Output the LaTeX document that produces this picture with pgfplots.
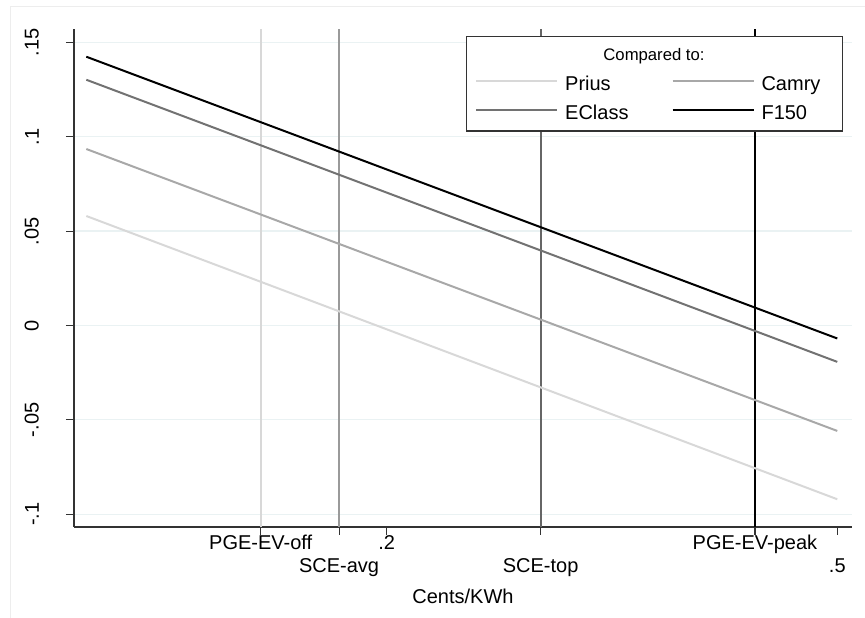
\documentclass[border=0pt]{standalone}
\usepackage{pgfplots}
\pgfplotsset{compat=1.18}
\usepackage{graphicx}
\usepackage{fontspec}
\setmainfont{Liberation Sans}
\definecolor{gridc}{HTML}{EAF2F3}
\definecolor{cprius}{HTML}{D8D8D8}
\definecolor{ccamry}{HTML}{A8A8A8}
\definecolor{ceclass}{HTML}{727272}
\definecolor{vsce}{HTML}{9A9A9A}
\definecolor{vtop}{HTML}{666666}
\definecolor{axc}{HTML}{333333}
\newcommand{\lf}{\fontsize{20}{24}\selectfont}
\newcommand{\rl}[1]{\rotatebox{90}{#1}}
\begin{document}
\begin{tikzpicture}
\useasboundingbox (0,0) rectangle (865pt,618pt);
\draw[line width=0.8pt, black!7] (10pt,0pt) -- (10pt,612pt) -- (865pt,612pt);
\begin{axis}[
  at={(74pt,91pt)}, anchor=south west,
  scale only axis, width=778pt, height=498pt,
  xmin=-0.0082, xmax=0.5098, ymin=-0.1068, ymax=0.1571,
  axis x line*=bottom, axis y line*=left,
  axis line style={axc, line width=1.3pt},
  tick align=outside, major tick length=8pt,
  tick style={axc, line width=1.1pt},
  minor tick num=0,
  xtick={0.1161,0.2,0.4452},
  xticklabels={PGE-EV-off,.2,PGE-EV-peak},
  extra x ticks={0.1683,0.3025,0.5},
  extra x tick labels={SCE-avg,SCE-top,.5},
  extra x tick style={grid=none, xticklabel style={yshift=-23pt}},
  xticklabel style={font=\lf, anchor=north, inner sep=0pt, text height=14.5pt, text depth=4.2pt},
  ytick={-0.1,-0.05,0,0.05,0.1,0.15},
  yticklabels={\rl{-.1},\rl{-.05},\rl{0},\rl{.05},\rl{.1},\rl{.15}},
  yticklabel style={font=\lf, anchor=east, inner sep=0pt, xshift=-27pt},
  ymajorgrids, xmajorgrids=false,
  grid style={gridc, line width=1.3pt},
  xlabel={Cents/KWh},
  xlabel style={font=\lf, at={(axis description cs:0.5,-0.1245)}, anchor=north, inner sep=0pt, text height=14.5pt, text depth=4.2pt},
  legend columns=2,
  legend cell align=left,
  legend image code/.code={\draw[#1] (0pt,4.15pt) -- (81pt,4.15pt);},
  legend style={at={(axis description cs:0.5154,0.9060)}, anchor=north west,
    draw=none, fill=none, inner sep=0pt, row sep=10.3pt,
    font=\lf,
    nodes={inner sep=0pt, text height=14.5pt, text depth=4.2pt},
    /tikz/every odd column/.append style={column sep=7pt},
    /tikz/every even column/.append style={column sep=43pt}},
]
% vertical reference lines
\addplot[cprius, line width=2pt, forget plot] coordinates {(0.1161,-0.1068) (0.1161,0.1571)};
\addplot[vsce, line width=2pt, forget plot] coordinates {(0.1683,-0.1068) (0.1683,0.1571)};
\addplot[vtop, line width=2pt, forget plot] coordinates {(0.3025,-0.1068) (0.3025,0.1571)};
\addplot[black, line width=2pt, forget plot] coordinates {(0.4452,-0.1068) (0.4452,0.1571)};
% series
\addplot[cprius, line width=2pt] coordinates {(0,0.0580) (0.5,-0.0921)};
\addlegendentry{Prius}
\addplot[ccamry, line width=2pt] coordinates {(0,0.0935) (0.5,-0.0559)};
\addlegendentry{Camry}
\addplot[ceclass, line width=2pt] coordinates {(0,0.1302) (0.5,-0.0193)};
\addlegendentry{EClass}
\addplot[black, line width=2pt] coordinates {(0,0.1424) (0.5,-0.0069)};
\addlegendentry{F150}
% legend frame and title
\draw[fill=white, draw=axc, line width=1.3pt] (axis description cs:0.5048,0.7952) rectangle (axis description cs:0.9880,0.9845);
\node[font=\fontsize{16.7}{20}\selectfont, inner sep=0pt] at (axis description cs:0.7455,0.9444) {Compared to:};
\end{axis}
\end{tikzpicture}
\end{document}
